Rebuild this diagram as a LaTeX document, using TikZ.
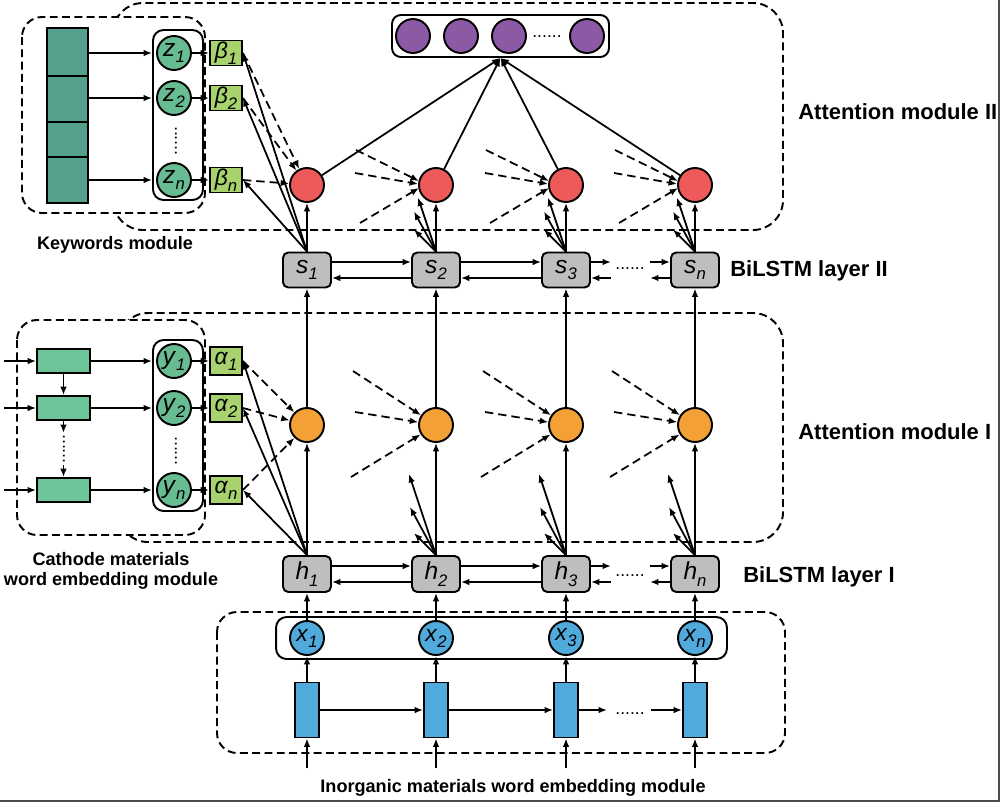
\documentclass[tikz,border=0pt]{standalone}
\usepackage{fontspec}
\setmainfont{Liberation Sans}
\usetikzlibrary{arrows.meta,calc}
\definecolor{stackteal}{RGB}{84,160,140}
\definecolor{zgreen}{RGB}{104,188,146}
\definecolor{cathgreen}{RGB}{108,196,152}
\definecolor{limeg}{RGB}{168,210,110}
\definecolor{redc}{RGB}{238,90,90}
\definecolor{orangec}{RGB}{243,160,55}
\definecolor{purplec}{RGB}{140,90,165}
\definecolor{bluec}{RGB}{80,170,220}
\definecolor{boxgray}{RGB}{190,190,190}
\newcommand{\vsub}[2]{\textit{#1}\raisebox{-0.5ex}{\fontsize{9.5}{9.5}\selectfont\textit{#2}}}
\begin{document}
\begin{tikzpicture}[x=0.02cm,y=-0.02cm,
 arr/.style={-{Latex[length=4.8pt,width=3.8pt]}, line width=1pt},
 darr/.style={arr, dash pattern=on 4.8pt off 2.8pt},
 modbox/.style={draw, line width=1.1pt, dash pattern=on 4.5pt off 2.5pt, rounded corners=0.4cm},
 circ/.style={circle, draw, line width=1.1pt, minimum size=0.68cm, inner sep=0pt, font=\fontsize{14}{14}\selectfont},
 cell/.style={draw, line width=1.1pt, rounded corners=3pt, fill=boxgray, minimum width=0.96cm, minimum height=0.7cm, inner sep=0pt, font=\fontsize{14}{14}\selectfont},
 wbox/.style={draw, line width=1.1pt, minimum width=0.64cm, inner sep=0pt, fill=limeg, font=\fontsize{13}{13}\selectfont},
 rbox/.style={draw, line width=1.1pt, inner sep=0pt},
 lbl/.style={font=\fontsize{12.5}{14}\selectfont\bfseries, anchor=west, inner sep=0pt},
 mlbl/.style={font=\fontsize{10.3}{11.6}\selectfont\bfseries, align=center, inner sep=0pt},
 dots/.style={font=\fontsize{10}{10}\selectfont, inner sep=0pt},
]
\useasboundingbox (0,0) rectangle (1000,802);
\fill[white] (0,0) rectangle (1000,802);
% frame lines of the image
\draw[line width=1.2pt, black!70] (0,800.8) -- (998.8,800.8) -- (998.8,0);

% module boxes
\draw[modbox, rounded corners=0.6cm] (113,3) rectangle (783,230);
\draw[modbox, rounded corners=0.6cm] (118,313) rectangle (783,542);
\draw[modbox, fill=white] (22,17) rectangle (205,213);
\draw[modbox, fill=white] (17,320) rectangle (205,535);
\draw[modbox] (217,612) rectangle (785,753);

% ---------------- Keywords module
\node[rbox, fill=stackteal, minimum width=0.82cm, minimum height=3.5cm] (stack) at (67.5,115.5) {};
\draw[line width=1.1pt] (47,76) -- (88,76) (47,122) -- (88,122) (47,157) -- (88,157);
\node[rbox, rounded corners=6pt, minimum width=1cm, minimum height=3.4cm] (zbox) at (178,115) {};
\node[circ, fill=zgreen] (z1) at (174,53) {\vsub{z}{1}};
\node[circ, fill=zgreen] (z2) at (174,98) {\vsub{z}{2}};
\node[circ, fill=zgreen] (zn) at (174,180) {\vsub{z}{n}};
\node[dots, rotate=90] (zdots) at (176,141) {......};
\node[wbox, minimum height=0.5cm] (b1) at (226,53) {\vsub{β}{1}};
\node[wbox, minimum height=0.5cm] (b2) at (226,98) {\vsub{β}{2}};
\node[wbox, minimum height=0.5cm] (bn) at (226,180) {\vsub{β}{n}};
\foreach \z in {z1,z2,zn} {
  \draw[arr] (stack.east |- \z) -- (zbox.west |- \z);
}
\draw[arr] (z1.east) -- (b1.west);
\draw[arr] (z2.east) -- (b2.west);
\draw[arr] (zn.east) -- (bn.west);
\node[mlbl] (kwlab) at (115,245) {Keywords module};

% ---------------- Cathode module
\node[rbox, fill=cathgreen, minimum width=1.06cm, minimum height=0.48cm] (c1) at (63.5,361) {};
\node[rbox, fill=cathgreen, minimum width=1.06cm, minimum height=0.48cm] (c2) at (63.5,408) {};
\node[rbox, fill=cathgreen, minimum width=1.06cm, minimum height=0.48cm] (c3) at (63.5,490) {};
\node[rbox, rounded corners=6pt, minimum width=1cm, minimum height=3.42cm] (ybox) at (178,425.5) {};
\node[circ, fill=zgreen] (y1) at (174,361) {\vsub{y}{1}};
\node[circ, fill=zgreen] (y2) at (174,408) {\vsub{y}{2}};
\node[circ, fill=zgreen] (yn) at (174,490) {\vsub{y}{n}};
\node[dots, rotate=90] (ydots) at (176,451) {......};
\node[dots, rotate=90] (cdots) at (64,449) {......};
\node[wbox, minimum height=0.56cm] (a1) at (226,361) {\vsub{α}{1}};
\node[wbox, minimum height=0.56cm] (a2) at (226,408) {\vsub{α}{2}};
\node[wbox, minimum height=0.56cm] (an) at (226,490) {\vsub{α}{n}};
\foreach \c in {c1,c2,c3} {
  \draw[arr] ($(\c.west)+(-32,0)$) -- (\c.west);
  \draw[arr] (\c.east) -- (ybox.west |- \c);
}
\draw[arr] (c1.south) -- (c2.north);
\draw[arr] (c2.south) -- ++(0,12);
\draw[arr] ($(c3.north)+(0,-12)$) -- (c3.north);
\draw[arr] (y1.east) -- (a1.west);
\draw[arr] (y2.east) -- (a2.west);
\draw[arr] (yn.east) -- (an.west);
\node[mlbl] (cathlab) at (111,571) {Cathode materials\\word embedding module};

% ---------------- top purple vector
\node[rbox, rounded corners=5pt, minimum width=4.34cm, minimum height=0.84cm] (pbox) at (500.5,36) {};
\node[circ, fill=purplec] (p1) at (413,36) {};
\node[circ, fill=purplec] (p2) at (461,36) {};
\node[circ, fill=purplec] (p3) at (509,36) {};
\node[circ, fill=purplec] (p4) at (587,36) {};
\node[dots] (pdots) at (547,37) {......};

% ---------------- columns
\foreach \i/\X in {1/307,2/436,3/566,4/695} {
  \node[circ, fill=redc] (r\i) at (\X,185) {};
  \node[circ, fill=orangec] (o\i) at (\X,425) {};
  \node[rbox, fill=bluec, minimum width=0.48cm, minimum height=1.1cm] (e\i) at (\X,710) {};
}
\node[cell] (s1) at (307,270) {\vsub{s}{1}};
\node[cell] (s2) at (436,270) {\vsub{s}{2}};
\node[cell] (s3) at (566,270) {\vsub{s}{3}};
\node[cell] (s4) at (695,270) {\vsub{s}{n}};
\node[cell, minimum height=0.72cm] (h1) at (307,574) {\vsub{h}{1}};
\node[cell, minimum height=0.72cm] (h2) at (436,574) {\vsub{h}{2}};
\node[cell, minimum height=0.72cm] (h3) at (566,574) {\vsub{h}{3}};
\node[cell, minimum height=0.72cm] (h4) at (695,574) {\vsub{h}{n}};

% x row box and its circles
\node[rbox, rounded corners=6pt, minimum width=9.02cm, minimum height=0.84cm] (xbox) at (501.5,638) {};
\node[circ, fill=bluec, font=\fontsize{13}{13}\selectfont] (x1) at (307,638) {\vsub{x}{1}};
\node[circ, fill=bluec, font=\fontsize{13}{13}\selectfont] (x2) at (436,638) {\vsub{x}{2}};
\node[circ, fill=bluec, font=\fontsize{13}{13}\selectfont] (x3) at (566,638) {\vsub{x}{3}};
\node[circ, fill=bluec, font=\fontsize{13}{13}\selectfont] (x4) at (695,638) {\vsub{x}{n}};

% vertical flow
\foreach \i in {1,...,4} {
  \draw[arr] ($(e\i.south)+(0,30)$) -- (e\i.south);
  \draw[arr] (e\i.north) -- (x\i.south);
  \draw[arr] (x\i.north) -- (h\i.south);
  \draw[arr] (h\i.north) -- (o\i.south);
  \draw[arr] (o\i.north) -- (s\i.south);
  \draw[arr] (s\i.north) -- (r\i.south);
  \draw[arr] (r\i) -- (pbox.south);
}

% embedding chain
\draw[arr] (e1.east) -- (e2.west);
\draw[arr] (e2.east) -- (e3.west);
\draw[arr] (e3.east) -- ++(28,0);
\draw[arr] ($(e4.west)+(-31,0)$) -- (e4.west);
\node[dots, anchor=base] (edots) at (630,714) {......};

% BiLSTM chains
\foreach \L/\d in {s/0.16cm,h/0.16cm} {
  \draw[arr] ([yshift=\d]\L1.east) -- ([yshift=\d]\L2.west);
  \draw[arr] ([yshift=-\d]\L2.west) -- ([yshift=-\d]\L1.east);
  \draw[arr] ([yshift=\d]\L2.east) -- ([yshift=\d]\L3.west);
  \draw[arr] ([yshift=-\d]\L3.west) -- ([yshift=-\d]\L2.east);
  \draw[arr] ([yshift=\d]\L3.east) -- ++(20,0);
  \draw[arr] ([yshift=-\d]\L3.east) ++(20,0) -- ([yshift=-\d]\L3.east);
  \draw[arr] ([yshift=\d]\L4.west) ++(-20,0) -- ([yshift=\d]\L4.west);
  \draw[arr] ([yshift=-\d]\L4.west) -- ++(-20,0);
}
\node[dots, anchor=base] (sdots) at (630,269) {......};
\node[dots, anchor=base] (hdots) at (630,576) {......};

% column 1 attention links
\foreach \b in {b1,b2,bn} {
  \draw[arr] (s1.north) -- (\b.east);
  \draw[darr] (\b.east) -- (r1);
}
\foreach \a in {a1,a2,an} {
  \draw[arr] (h1.north) -- (\a.east);
  \draw[darr] (\a.east) -- (o1);
}

% columns 2..4: incoming dashed and outgoing fans
\foreach \i in {2,3,4} {
  \draw[darr] ($(r\i)+(-80,-35)$) -- ($(r\i.west)+(1,-4)$);
  \draw[darr] ($(r\i)+(-81,-12)$) -- ($(r\i.west)+(0,-1)$);
  \draw[darr] ($(r\i)+(-76,38)$) -- ($(r\i.west)+(1,3)$);
  \draw[arr] (s\i.north) -- ++(-18,-54);
  \draw[arr] (s\i.north) -- ++(-22,-40);
  \draw[arr] (s\i.north) -- ++(-22,-22);
  \draw[darr] ($(o\i)+(-83,-54)$) -- (o\i);
  \draw[darr] ($(o\i)+(-81,-13)$) -- (o\i);
  \draw[darr] ($(o\i)+(-85,52)$) -- (o\i);
  \draw[arr] (h\i.north) -- ++(-27,-81);
  \draw[arr] (h\i.north) -- ++(-26,-48);
  \draw[arr] (h\i.north) -- ++(-22,-22);
}

% labels
\node[lbl] (attII) at (798,112) {Attention module II};
\node[lbl] (bilII) at (730,271) {BiLSTM layer II};
\node[lbl] (attI) at (798,432) {Attention module I};
\node[lbl] (bilI) at (743,577) {BiLSTM layer I};
\node[mlbl] (inorg) at (513,788) {Inorganic materials word embedding module};
\end{tikzpicture}
\end{document}
